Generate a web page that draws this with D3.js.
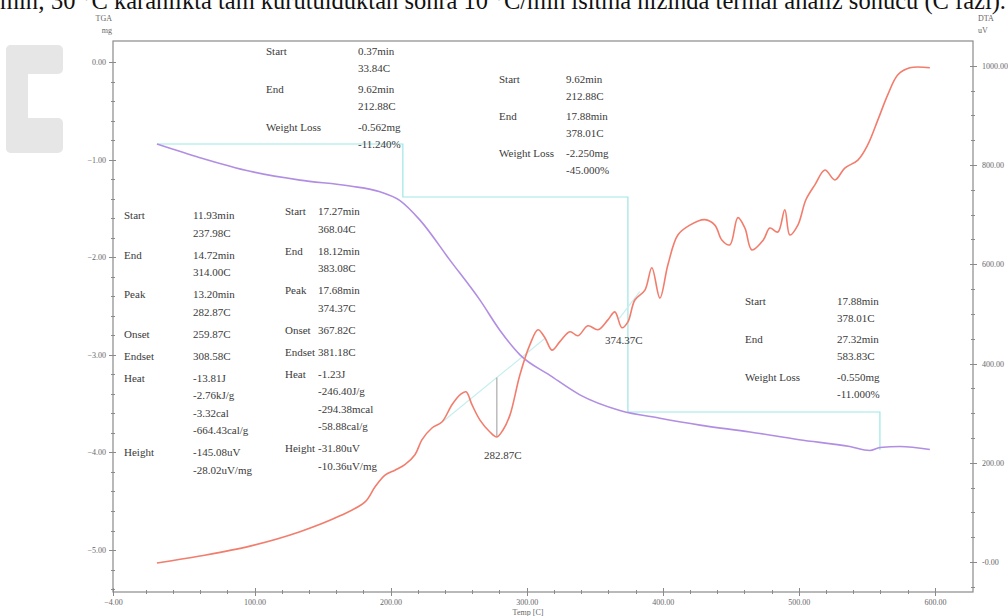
<!DOCTYPE html>
<html lang="tr">
<head>
<meta charset="UTF-8">
<title>TGA / DTA</title>
<script src="https://d3js.org/d3.v7.min.js"></script>
<style>
  body { margin: 0; background: #fff; }
  svg { display: block; font-family: "Liberation Serif", "DejaVu Serif", serif; }
  .axis path, .axis line { stroke: #8a8a8a; shape-rendering: crispEdges; }
  .axis text { fill: #666; font-size: 8px; font-family: "Liberation Serif", serif; }
  .note { fill: #3a3a3a; font-size: 11px; }
</style>
</head>
<body>
<svg width="1008" height="616"></svg>
<script>
// TGA curve (temperature C, mass mg)
const tgaTemp = [28.3, 59.9, 96.7, 133.4, 170.1, 192.2, 206.9, 221.6, 243.6, 265.7, 280.4, 295.1, 317.1, 339.1, 368.5, 397.9, 427.4, 464.1, 500.3, 537.5, 552.2, 559.6, 574.3, 596.3];
const tgaMass = [-0.84, -0.98, -1.12, -1.21, -1.27, -1.33, -1.42, -1.62, -2.03, -2.44, -2.75, -3.00, -3.21, -3.41, -3.57, -3.65, -3.72, -3.79, -3.87, -3.94, -3.98, -3.95, -3.94, -3.97];

// DTA curve (temperature C, signal uV)
const dtaTemp = [28.3, 59.9, 96.7, 133.4, 162.8, 181.2, 188.5, 195.9, 203.2, 210.5, 217.9, 223.0, 230.4, 237.7, 245.1, 251.0, 255.4, 259.8, 265.7, 273.0, 278.1, 282.6, 287.7, 295.0, 302.4, 308.3, 313.4, 318.6, 324.4, 331.8, 337.7, 345.0, 352.4, 359.7, 364.8, 370.0, 374.4, 379.5, 386.9, 392.0, 397.9, 403.8, 411.1, 419.9, 430.9, 438.3, 443.4, 449.3, 455.2, 460.4, 465.5, 473.9, 478.7, 484.6, 489.7, 493.4, 499.3, 505.2, 511.8, 519.2, 526.5, 533.8, 543.4, 550.7, 558.1, 565.4, 572.8, 581.6, 596.3];
const dtaSignal = [-2, 12, 32, 61, 93, 121, 151, 175, 185, 196, 216, 246, 270, 282, 317, 337, 343, 317, 286, 262, 252, 266, 296, 377, 438, 468, 452, 427, 444, 464, 456, 476, 468, 488, 504, 472, 484, 528, 548, 593, 532, 599, 659, 679, 690, 679, 649, 639, 694, 673, 629, 649, 673, 665, 710, 659, 679, 730, 760, 790, 770, 794, 810, 841, 891, 942, 982, 996, 996];

// TGA step markers (temperature C, mass mg)
const stepTemp = [28.3, 209.0, 209.0, 374.4, 374.4, 559.6, 559.6];
const stepMass = [-0.84, -0.84, -1.383, -1.383, -3.586, -3.586, -3.975];

// DTA peak baselines (temperature C, signal uV)
const base1Temp = [237.98, 314.0], base1Signal = [282, 452];
const base2Temp = [367.8, 383.1], base2Signal = [490, 545];
const peak1 = {temp: 278.1, signal: 252, label: "282.87C"};
const peak2 = {temp: 374.4, signal: 484, label: "374.37C"};

// tick labels
const xTicks = [-4, 100, 200, 300, 400, 500, 600];
const leftTicks = [0, -1, -2, -3, -4, -5];
const rightTicks = [1000, 800, 600, 400, 200, 0];

// analysis result blocks: [label, value lines]
const blockTgaA = [["Start", ["0.37min", "33.84C"]], ["End", ["9.62min", "212.88C"]], ["Weight Loss", ["-0.562mg", "-11.240%"]]];
const blockTgaB = [["Start", ["9.62min", "212.88C"]], ["End", ["17.88min", "378.01C"]], ["Weight Loss", ["-2.250mg", "-45.000%"]]];
const blockTgaC = [["Start", ["17.88min", "378.01C"]], ["End", ["27.32min", "583.83C"]], ["Weight Loss", ["-0.550mg", "-11.000%"]]];
const blockDtaA = [["Start", ["11.93min", "237.98C"]], ["End", ["14.72min", "314.00C"]], ["Peak", ["13.20min", "282.87C"]], ["Onset", ["259.87C"]], ["Endset", ["308.58C"]], ["Heat", ["-13.81J", "-2.76kJ/g", "-3.32cal", "-664.43cal/g"]], ["Height", ["-145.08uV", "-28.02uV/mg"]]];
const blockDtaB = [["Start", ["17.27min", "368.04C"]], ["End", ["18.12min", "383.08C"]], ["Peak", ["17.68min", "374.37C"]], ["Onset", ["367.82C"]], ["Endset", ["381.18C"]], ["Heat", ["-1.23J", "-246.40J/g", "-294.38mcal", "-58.88cal/g"]], ["Height", ["-31.80uV", "-10.36uV/mg"]]];

const svg = d3.select("svg");
const box = {left: 113, right: 973, top: 41, bottom: 592};

const x = d3.scaleLinear().domain([-4, 628]).range([box.left, box.right]);
const yL = d3.scaleLinear().domain([-5.43, 0.215]).range([box.bottom, box.top]);
const yR = d3.scaleLinear().domain([-60.5, 1050]).range([box.bottom, box.top]);

// line of body text above the figure, cut by the page edge
svg.append("text")
  .attr("x", 0).attr("y", 9)
  .attr("textLength", 1006).attr("lengthAdjust", "spacingAndGlyphs")
  .style("font-size", "25px").style("fill", "#111")
  .text("min; 30 °C karanlıkta tam kurutulduktan sonra 10 °C/min ısıtma hızında termal analiz sonucu (C fazı).");

// panel letter
const cl = svg.append("g").attr("fill", "#e6e6e6");
cl.append("rect").attr("x", 6).attr("y", 45).attr("width", 57).attr("height", 29).attr("rx", 5);
cl.append("rect").attr("x", 6).attr("y", 45).attr("width", 22).attr("height", 108).attr("rx", 5);
cl.append("rect").attr("x", 6).attr("y", 118).attr("width", 57).attr("height", 35).attr("rx", 5);

// frame
svg.append("rect")
  .attr("x", box.left).attr("y", box.top)
  .attr("width", box.right - box.left).attr("height", box.bottom - box.top)
  .attr("fill", "none").attr("stroke", "#8a8a8a").attr("stroke-width", 1.2);

const f2 = d3.format(".2f");

// axes
const gx = svg.append("g").attr("class", "axis")
  .attr("transform", `translate(0,${box.bottom})`)
  .call(d3.axisBottom(x).tickValues(xTicks).tickFormat(f2).tickSize(4).tickPadding(4));
gx.selectAll(".tick line").attr("y1", -4);
gx.selectAll(".tick text").attr("dy", "0.6em");
svg.append("g").attr("class", "axis")
  .attr("transform", `translate(0,${box.bottom})`)
  .call(d3.axisBottom(x).tickValues(d3.range(20, 620, 20).filter(v => v % 100 !== 0)).tickFormat("").tickSize(2))
  .selectAll(".tick line").attr("y1", -2);

const gl = svg.append("g").attr("class", "axis")
  .attr("transform", `translate(${box.left},0)`)
  .call(d3.axisLeft(yL).tickValues(leftTicks).tickFormat(f2).tickSize(4).tickPadding(3));
gl.selectAll(".tick line").attr("x1", 3);
svg.append("g").attr("class", "axis")
  .attr("transform", `translate(${box.left},0)`)
  .call(d3.axisLeft(yL).tickValues(d3.range(-5.4, 0.1, 0.2).filter(v => Math.abs(v - Math.round(v)) > 0.05)).tickFormat("").tickSize(2))
  .selectAll(".tick line").attr("x1", 2);

const gr = svg.append("g").attr("class", "axis")
  .attr("transform", `translate(${box.right},0)`)
  .call(d3.axisRight(yR).tickValues(rightTicks).tickFormat(d => d === 0 ? "-0.00" : f2(d)).tickSize(4).tickPadding(5));
gr.selectAll(".tick line").attr("x1", -3);
svg.append("g").attr("class", "axis")
  .attr("transform", `translate(${box.right},0)`)
  .call(d3.axisRight(yR).tickValues(d3.range(-50, 1050, 50).filter(v => v % 200 !== 0)).tickFormat("").tickSize(2))
  .selectAll(".tick line").attr("x1", -2);
svg.selectAll(".axis .domain").remove();

// axis titles
const at = svg.append("g").style("font-size", "8px").style("fill", "#666");
at.append("text").attr("x", 112).attr("y", 21).attr("text-anchor", "end").text("TGA");
at.append("text").attr("x", 112).attr("y", 33).attr("text-anchor", "end").text("mg");
at.append("text").attr("x", 978).attr("y", 21).text("DTA");
at.append("text").attr("x", 978).attr("y", 33).text("uV");
at.append("text").attr("x", 528).attr("y", 615).attr("text-anchor", "middle").text("Temp [C]");

// step markers
const stepLine = d3.line().x((d, i) => x(stepTemp[i])).y(d => yL(d));
svg.append("path").datum(stepMass)
  .attr("d", stepLine).attr("fill", "none")
  .attr("stroke", "#9fe6e6").attr("stroke-width", 1.2);

// DTA peak baselines and height marker
const bl = (t, s) => d3.line().x((d, i) => x(t[i])).y(d => yR(d))(s);
svg.append("path").attr("d", bl(base1Temp, base1Signal)).attr("fill", "none").attr("stroke", "#c6eeee").attr("stroke-width", 1.2);
svg.append("path").attr("d", bl(base2Temp, base2Signal)).attr("fill", "none").attr("stroke", "#c6eeee").attr("stroke-width", 1.2);
const baseAt = (t, bt, bs) => bs[0] + (t - bt[0]) / (bt[1] - bt[0]) * (bs[1] - bs[0]);
svg.append("line")
  .attr("x1", x(peak1.temp)).attr("x2", x(peak1.temp))
  .attr("y1", yR(peak1.signal)).attr("y2", yR(baseAt(peak1.temp, base1Temp, base1Signal)))
  .attr("stroke", "#999").attr("stroke-width", 1);

// curves
const tgaLine = d3.line().curve(d3.curveMonotoneX).x((d, i) => x(tgaTemp[i])).y(d => yL(d));
svg.append("path").datum(tgaMass)
  .attr("d", tgaLine).attr("fill", "none")
  .attr("stroke", "#b18ee3").attr("stroke-width", 1.6);

const dtaLine = d3.line().curve(d3.curveCatmullRom).x((d, i) => x(dtaTemp[i])).y(d => yR(d));
svg.append("path").datum(dtaSignal)
  .attr("d", dtaLine).attr("fill", "none")
  .attr("stroke", "#f27d6d").attr("stroke-width", 1.6);

// peak labels
svg.append("text").attr("class", "note")
  .attr("x", x(peak1.temp) + 6).attr("y", yR(peak1.signal) + 22)
  .attr("text-anchor", "middle").text(peak1.label);
svg.append("text").attr("class", "note")
  .attr("x", x(peak2.temp) - 4).attr("y", yR(peak2.signal) + 22)
  .attr("text-anchor", "middle").text(peak2.label);

// result blocks
function drawBlock(rows, lx, vx, y0, rowGaps) {
  const g = svg.append("g").attr("class", "note");
  let y = y0;
  rows.forEach(r => {
    g.append("text").attr("x", lx).attr("y", y).text(r[0]);
    r[1].forEach((v, j) => {
      g.append("text").attr("x", vx).attr("y", y + j * rowGaps[1]).text(v);
    });
    y += Math.max(r[1].length - 1, 0) * rowGaps[1] + rowGaps[0];
  });
}
drawBlock(blockTgaA, 266, 358, 55, [21, 17]);
drawBlock(blockTgaB, 499, 566, 83, [20, 17]);
drawBlock(blockTgaC, 745, 837, 305, [21, 17]);
drawBlock(blockDtaA, 124, 193, 219, [22, 17.5]);
drawBlock(blockDtaB, 285, 318, 215, [22, 17.5]);
</script>
</body>
</html>
